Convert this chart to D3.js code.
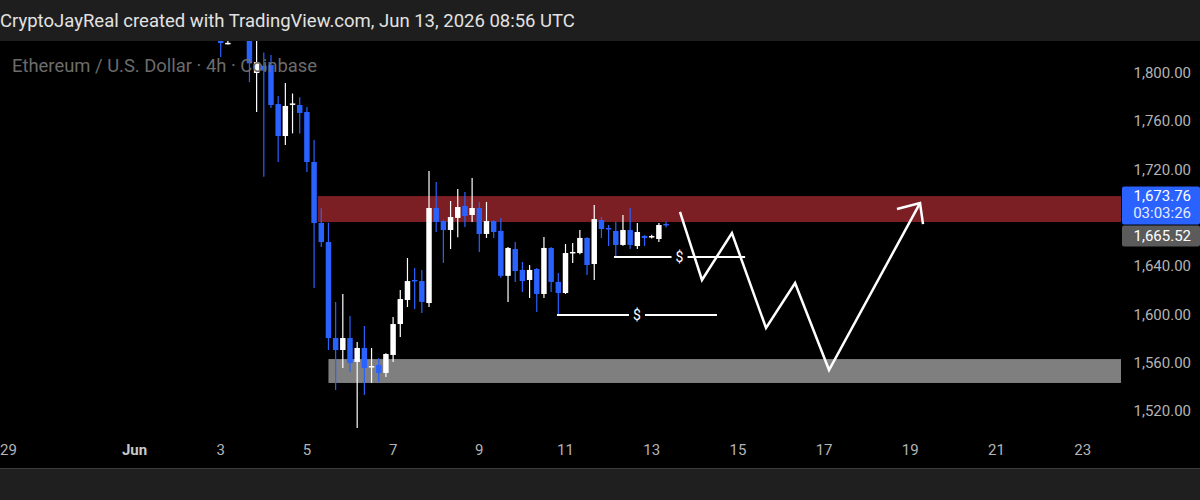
<!DOCTYPE html>
<html>
<head>
<meta charset="utf-8">
<script src="https://cdn.jsdelivr.net/npm/d3@7"></script>
<style>
html, body { margin: 0; padding: 0; background: #000; }
svg { display: block; font-family: Roboto, "Noto Sans", sans-serif; }
</style>
</head>
<body>
<svg id="chart" width="1200" height="500"></svg>
<script>
// ETH/USD 4h candles, first one opens Jun 3 00:00 UTC
var candleStart = "2026-06-03T00:00:00Z";
var opens  = [1832, 1824.5, 1838, 1850, 1833, 1800, 1806, 1806.6, 1774.3, 1747.8, 1774, 1773.5, 1767.7, 1726.3, 1675.8, 1660,
              1580.5, 1570.6, 1580.5, 1560.7, 1572.3, 1556.5, 1558.2, 1551.6, 1566.5, 1592.1, 1612, 1628.6, 1627.7, 1609.5,
              1688.2, 1677.4, 1670, 1680, 1689.9, 1682.4, 1688.2, 1666.7, 1677.4, 1669.2, 1632, 1654.2, 1636.9, 1628.6,
              1637.7, 1617, 1655.1, 1627, 1617.8, 1650.9, 1650.9, 1663.4, 1641.8, 1678.3, 1671.6, 1669.2, 1657.6, 1670,
              1656.7, 1665, 1664.2, 1662.5, 1675];
var highs  = [1836, 1826.5, 1856, 1855, 1836, 1827, 1817, 1815, 1781, 1791.7, 1783, 1780, 1771.8, 1744.5, 1688, 1676,
              1610.4, 1617, 1598.8, 1577.2, 1590.5, 1572.3, 1564, 1568, 1598, 1620.3, 1646.8, 1638.5, 1636.9, 1718.8,
              1709.7, 1678.5, 1694, 1704, 1701.4, 1713, 1693.2, 1693.2, 1678, 1679.9, 1656, 1660, 1643.5, 1641,
              1638.5, 1664.2, 1656, 1634.4, 1658.4, 1659.2, 1670, 1664, 1690.7, 1680.7, 1674.1, 1676.6, 1682.4, 1688.2,
              1675.8, 1665.8, 1666, 1675.8, 1677];
var lows   = [1813.3, 1823.5, 1835, 1834, 1792.5, 1767.7, 1714, 1771, 1726.3, 1740.4, 1750, 1750, 1718, 1622, 1656, 1570.6,
              1537.5, 1555.7, 1552.4, 1506, 1533.3, 1543.3, 1544, 1548.2, 1560.7, 1581.4, 1606.2, 1604.6, 1601.3, 1606.2,
              1668.3, 1642.6, 1654.2, 1664, 1672.5, 1676.6, 1651.8, 1663.4, 1663.4, 1630.3, 1610.4, 1627, 1618.6, 1613.7,
              1602, 1613.7, 1618.6, 1599.6, 1617, 1642.6, 1650, 1632.7, 1628.6, 1663.4, 1656.7, 1647.6, 1657, 1654.2,
              1654.2, 1656.7, 1663, 1660, 1672];
var closes = [1824.8, 1825, 1850, 1838, 1808, 1809, 1802, 1773.5, 1747.8, 1772.7, 1774.8, 1766.9, 1726.3, 1675.8, 1660, 1580.5,
              1570.6, 1580.5, 1559.8, 1572.3, 1555.7, 1557.3, 1551.6, 1567.3, 1592.1, 1612.8, 1627.7, 1627.7, 1610.4, 1688.2,
              1676.6, 1670, 1680.7, 1689, 1681.6, 1688.2, 1666.7, 1677.4, 1668.3, 1632, 1655.1, 1636, 1627.7, 1636.9,
              1617, 1655.1, 1627, 1617.8, 1650.9, 1651.8, 1663.4, 1641, 1679, 1670.8, 1670.8, 1657.6, 1670, 1657.6,
              1668.3, 1663.4, 1665, 1674.1, 1673.76];

// zones: [start, low price, high price]
var supplyZone = ["2026-06-05T06:00:00Z", 1676.6, 1698.1];
var demandZone = ["2026-06-05T12:00:00Z", 1543.3, 1563.1];

// liquidity lines marked with "$"
var liqStart = ["2026-06-12T03:00:00Z", "2026-06-10T19:15:00Z"];
var liqEnd   = ["2026-06-15T04:00:00Z", "2026-06-14T12:20:00Z"];
var liqPrice = [1647.6, 1599.6];

// projected path
var pathTimes  = ["2026-06-13T15:45:00Z", "2026-06-14T04:00:00Z", "2026-06-14T20:40:00Z", "2026-06-15T15:40:00Z",
                  "2026-06-16T07:50:00Z", "2026-06-17T02:45:00Z", "2026-06-19T05:25:00Z"];
var pathPrices = [1684.9, 1628.6, 1667.5, 1588.8, 1626.1, 1554.0, 1692.3];
var arrowTimes  = ["2026-06-18T16:35:00Z", "2026-06-19T05:25:00Z", "2026-06-19T07:05:00Z"];
var arrowPrices = [1687.4, 1692.3, 1674.9];

var priceTicks = [1520, 1560, 1600, 1640, 1680, 1720, 1760, 1800];
var timeTicks  = ["2026-05-29", "2026-06-01", "2026-06-03", "2026-06-05", "2026-06-07", "2026-06-09", "2026-06-11",
                  "2026-06-13", "2026-06-15", "2026-06-17", "2026-06-19", "2026-06-21", "2026-06-23"];
var timeLabels = ["29", "Jun", "3", "5", "7", "9", "11", "13", "15", "17", "19", "21", "23"];

var lastPrice = 1673.76, countdown = "03:03:26", otherPrice = 1665.52;

var svg = d3.select("#chart");
var W = 1200, H = 500;
var plotTop = 41, plotBottom = 468, plotRight = 1121;
var upColor = "#ffffff", downColor = "#2962ff";

var x = d3.scaleUtc()
    .domain([new Date("2026-05-29T00:00:00Z"), new Date("2026-06-24T00:00:00Z")])
    .range([5.2, 5.2 + 26 * 43.1]);
var y = d3.scaleLinear().domain([1520, 1800]).range([411.1, 73]);

var fmt = d3.format(",.2f");
var candleMs = 4 * 3600 * 1000;
var candles = opens.map(function(o, i) {
    return {
        t: new Date(Date.parse(candleStart) + i * candleMs),
        o: o, h: highs[i], l: lows[i], c: closes[i]
    };
});
var step = x(new Date(Date.parse(candleStart) + candleMs)) - x(new Date(candleStart));
var bodyW = step * 0.76;

svg.append("rect").attr("width", W).attr("height", H).attr("fill", "#000");

svg.append("defs").append("clipPath").attr("id", "plot")
    .append("rect").attr("x", 0).attr("y", plotTop)
    .attr("width", plotRight).attr("height", plotBottom - plotTop);

var plot = svg.append("g").attr("clip-path", "url(#plot)");

function zone(z, color) {
    plot.append("rect")
        .attr("x", x(new Date(z[0])))
        .attr("y", y(z[2]))
        .attr("width", plotRight - x(new Date(z[0])))
        .attr("height", y(z[1]) - y(z[2]))
        .attr("fill", color);
}
zone(supplyZone, "#7b1f25");
zone(demandZone, "#7f7f7f");

var cg = plot.append("g").selectAll("g")
    .data(candles)
    .enter().append("g");

cg.append("line")
    .attr("x1", function(d) { return x(d.t); })
    .attr("x2", function(d) { return x(d.t); })
    .attr("y1", function(d) { return y(d.h); })
    .attr("y2", function(d) { return y(d.l); })
    .attr("stroke", function(d) { return d.c >= d.o ? upColor : downColor; })
    .attr("stroke-width", 1.2);

cg.append("rect")
    .attr("x", function(d) { return x(d.t) - bodyW / 2; })
    .attr("y", function(d) { return y(Math.max(d.o, d.c)); })
    .attr("width", bodyW)
    .attr("height", function(d) { return Math.max(1.5, Math.abs(y(d.o) - y(d.c))); })
    .attr("fill", function(d) { return d.c >= d.o ? upColor : downColor; });

// "$" liquidity lines, text sits in a gap in the middle
liqPrice.forEach(function(p, i) {
    var x0 = x(new Date(liqStart[i])), x1 = x(new Date(liqEnd[i]));
    var mid = (x0 + x1) / 2, gap = 8;
    plot.append("line").attr("x1", x0).attr("x2", mid - gap).attr("y1", y(p)).attr("y2", y(p))
        .attr("stroke", "#fff").attr("stroke-width", 2);
    plot.append("line").attr("x1", mid + gap).attr("x2", x1).attr("y1", y(p)).attr("y2", y(p))
        .attr("stroke", "#fff").attr("stroke-width", 2);
    plot.append("text").attr("x", mid).attr("y", y(p) + 5)
        .attr("text-anchor", "middle").attr("fill", "#fff")
        .attr("font-size", 14).text("$");
});

var line = d3.line()
    .x(function(d) { return x(new Date(d[0])); })
    .y(function(d) { return y(d[1]); });

plot.append("path")
    .attr("d", line(d3.zip(pathTimes, pathPrices)))
    .attr("fill", "none").attr("stroke", "#fff").attr("stroke-width", 2.5)
    .attr("stroke-linejoin", "miter");
plot.append("path")
    .attr("d", line(d3.zip(arrowTimes, arrowPrices)))
    .attr("fill", "none").attr("stroke", "#fff").attr("stroke-width", 2.5);

plot.append("text")
    .attr("x", 12).attr("y", 72)
    .attr("fill", "#6c6c6c").attr("font-size", 18.4)
    .text("Ethereum / U.S. Dollar · 4h · Coinbase");

// price labels on the right, positions from the scale
var gy = y(otherPrice);
var blueTop = gy - 11 - 38, grayBottom = gy + 11;

// ticks behind the last-price boxes are hidden like in the terminal
svg.append("g").selectAll("text")
    .data(priceTicks.filter(function(d) { return y(d) < blueTop - 8 || y(d) > grayBottom + 8; }))
    .enter().append("text")
    .attr("x", 1191)
    .attr("y", function(d) { return y(d) + 5; })
    .attr("text-anchor", "end")
    .attr("fill", "#b4b4b4")
    .attr("font-size", 15)
    .text(function(d) { return fmt(d); });

svg.append("rect").attr("x", 1122).attr("y", gy - 10).attr("width", 78).attr("height", 21)
    .attr("rx", 2).attr("fill", "#5b5b5b");
svg.append("text").attr("x", 1191).attr("y", gy + 5.5).attr("text-anchor", "end")
    .attr("fill", "#fff").attr("font-size", 15).text(fmt(otherPrice));

svg.append("rect").attr("x", 1122).attr("y", blueTop).attr("width", 78).attr("height", 38)
    .attr("rx", 2).attr("fill", downColor);
svg.append("text").attr("x", 1191).attr("y", blueTop + 15).attr("text-anchor", "end")
    .attr("fill", "#fff").attr("font-size", 15).text(fmt(lastPrice));
svg.append("text").attr("x", 1191).attr("y", blueTop + 32).attr("text-anchor", "end")
    .attr("fill", "#e6ecff").attr("font-size", 15).text(countdown);

// time axis
svg.append("g").selectAll("text")
    .data(timeTicks)
    .enter().append("text")
    .attr("x", function(d, i) { return i === 0 ? 0 : x(new Date(d + "T00:00:00Z")); })
    .attr("y", 455)
    .attr("text-anchor", function(d, i) { return i === 0 ? "start" : "middle"; })
    .attr("fill", function(d, i) { return timeLabels[i] === "Jun" ? "#c8c8c8" : "#b4b4b4"; })
    .attr("font-weight", function(d, i) { return timeLabels[i] === "Jun" ? "bold" : "normal"; })
    .attr("font-size", 15)
    .text(function(d, i) { return timeLabels[i]; });

// header and footer bands
svg.append("rect").attr("width", W).attr("height", plotTop).attr("fill", "#1e1e1e");
svg.append("text").attr("x", 0).attr("y", 27)
    .attr("fill", "#e2e2e2").attr("font-size", 18.5)
    .text("CryptoJayReal created with TradingView.com, Jun 13, 2026 08:56 UTC");

svg.append("rect").attr("y", plotBottom).attr("width", W).attr("height", H - plotBottom).attr("fill", "#1f1f1f");
svg.append("line").attr("x1", 0).attr("x2", W).attr("y1", plotBottom + 0.5).attr("y2", plotBottom + 0.5)
    .attr("stroke", "#3c3c3c");
</script>
</body>
</html>
